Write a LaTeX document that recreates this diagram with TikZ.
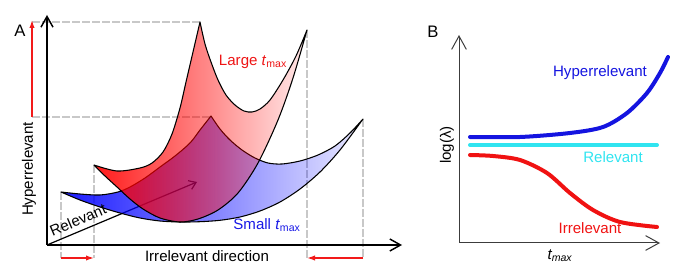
\documentclass[tikz,border=0pt]{standalone}
\usepackage{fontspec}
\setmainfont{Liberation Sans}
\usetikzlibrary{arrows.meta,fadings}
\definecolor{sheetred}{HTML}{FF0000}
\definecolor{sheetblue}{HTML}{0000FF}
\definecolor{guidegray}{HTML}{C8C8C8}
\definecolor{markred}{HTML}{F21A1A}
\definecolor{labelred}{HTML}{EE1414}
\definecolor{labelblue}{HTML}{1818E6}
\definecolor{trendblue}{HTML}{1414E0}
\definecolor{trendcyan}{HTML}{30E4F0}
\definecolor{trendred}{HTML}{F01212}
\definecolor{axisgray}{HTML}{3C3C3C}
\tikzfading[name=faderight,left color=transparent!10,right color=transparent!92]
\tikzset{
  axisA/.style={line width=1.1pt,-{Straight Barb[length=8pt,width=9pt]}},
  axisB/.style={line width=0.75pt,draw=axisgray,-{Straight Barb[length=10pt,width=11pt]}},
  guide/.style={draw=guidegray,line width=0.8pt,dash pattern=on 6pt off 1.5pt},
  flowmark/.style={draw=markred,line width=1pt,-{Latex[length=6pt,width=4pt]}},
  sheet/.style={draw=black,line width=0.8pt,line join=round},
  trend/.style={line width=3pt,line cap=round},
  panel/.style={font=\fontsize{12.5}{14}\selectfont},
}

\begin{document}
\begin{tikzpicture}[x=0.75pt,y=-0.75pt,>=Latex,
    every node/.style={font=\fontsize{11.3}{13}\selectfont}]
  \useasboundingbox (0,0) rectangle (675,267);

  % panel A: guides first, surfaces over them
  \draw[guide] (32,22) -- (200,22);
  \draw[guide] (32,117) -- (211,117);
  \foreach \x/\ytop in {61/192,94/165,307/30,363/119}
    \draw[guide] (\x,\ytop) -- (\x,258);

  \coordinate (oA) at (47,245);
  \coordinate (yA) at (47,15);
  \coordinate (xA) at (402,245);
  \coordinate (relA) at (197,182);
  \draw[line width=0.9pt,-{Straight Barb[length=5pt,width=7pt]}] (oA) -- (relA);

  % small t_max sheet
  \draw[sheet,preaction={fill=sheetblue,path fading=faderight}]
    plot[smooth] coordinates {(61,192) (80,200) (100,207) (120,213) (140,218) (160,221) (180,222) (200,221.7) (220,220.3) (240,217) (260,211) (280,202) (300,189) (320,172) (340,150) (363,119)}
    -- plot[smooth] coordinates {(363,119) (350,133) (335,146) (318,155) (300,161) (282,164) (268,163) (255,158) (242,150) (230,140) (220,129) (211,116)}
    -- plot[smooth] coordinates {(211,116) (200,130) (190,143) (175,156) (160,167) (145,178) (130,187) (118,192) (100,195) (80,194) (61,192)}
    -- cycle;
  % large t_max sheet
  \draw[sheet,preaction={fill=sheetred,path fading=faderight}]
    plot[smooth] coordinates {(94,165) (105,176) (117,187) (130,199) (143,209) (160,218) (180,222) (198,219) (218,210) (238,193) (258,163) (278,120) (293,78) (307,30)}
    -- plot[smooth] coordinates {(307,30) (296,56) (283,80) (270,100) (260,109) (252,112) (244,111) (235,105) (226,95) (218,80) (211,62) (205,44) (200,22)}
    -- plot[smooth] coordinates {(200,22) (193,52) (186,82) (180,108) (172,134) (163,152) (152,163) (140,168) (117,171) (94,165)}
    -- cycle;

  \draw[axisA] (oA) -- (yA);
  \draw[axisA] (oA) -- (xA);

  \coordinate (hypLo) at (32,117);
  \coordinate (hypHi) at (32,20);
  \coordinate (irrL1) at (61,258);
  \coordinate (irrL2) at (94,258);
  \coordinate (irrR1) at (363,258);
  \coordinate (irrR2) at (307,258);
  \draw[flowmark] (hypLo) -- (hypHi);
  \draw[flowmark] (irrL1) -- (irrL2);
  \draw[flowmark] (irrR1) -- (irrR2);

  \node[panel] (tagA) at (20,31) {A};
  \node[rotate=90] (hypA) at (29,169) {Hyperrelevant};
  \node[rotate=23] (relTxt) at (78,220) {Relevant};
  \node (irrA) at (207,256) {Irrelevant direction};
  \node[text=labelred] (largeT) at (253,62) {Large \textit{t}\textsubscript{max}};
  \node[text=labelblue] (smallT) at (267,225) {Small \textit{t}\textsubscript{max}};

  % panel B
  \coordinate (oB) at (459,243);
  \coordinate (yB) at (459,35);
  \coordinate (xB) at (660,243);
  \draw[axisB] (oB) -- (yB);
  \draw[axisB] (oB) -- (xB);

  \draw[trend,trendblue] plot[smooth] coordinates {(470,137) (520,137) (570,133) (603,127) (627,113) (647,93) (660,73) (668,57)};
  \draw[trend,trendcyan] (470,145) -- (657,145);
  \draw[trend,trendred] plot[smooth] coordinates {(470,155) (493,156) (520,160) (547,173) (570,193) (593,210) (620,222) (657,227)};

  \node[panel] (tagB) at (433,32) {B};
  \node[rotate=90] (logL) at (447,145) {log(λ)};
  \node (tmaxB) at (560,256) {\textit{t\textsubscript{max}}};
  \node[text=trendblue] (hypB) at (600,73) {Hyperrelevant};
  \node[text=trendcyan] (relB) at (613,157) {Relevant};
  \node[text=trendred] (irrB) at (590,228) {Irrelevant};
\end{tikzpicture}
\end{document}
